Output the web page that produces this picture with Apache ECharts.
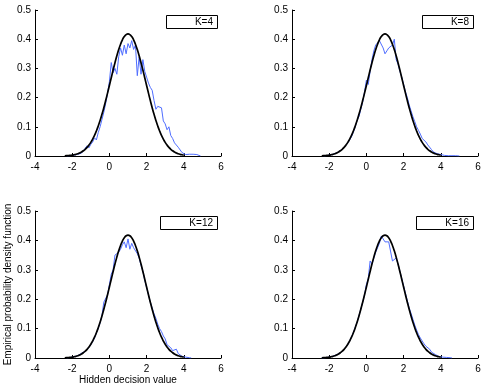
<!DOCTYPE html>
<html>
<head>
<meta charset="utf-8">
<script src="https://cdn.jsdelivr.net/npm/echarts@6/dist/echarts.min.js"></script>
<style>
    html, body { margin: 0; padding: 0; background: #fff; }
    #main { width: 485px; height: 387px; }
</style>
</head>
<body>
<div id="main"></div>
<script>
// panel titles (legend text)
var panelNames = ['K=4', 'K=8', 'K=12', 'K=16'];

var xTicks = [-4, -2, 0, 2, 4, 6];
var yTicks = [0, 0.1, 0.2, 0.3, 0.4, 0.5];

// black reference density, x = -2.4 .. 4.0 step 0.1
var refStart = -2.4;
var refDensity = [
    0.0007, 0.0011, 0.0015, 0.0022, 0.0030, 0.0042, 0.0057, 0.0077, 0.0103, 0.0136,
    0.0178, 0.0230, 0.0294, 0.0373, 0.0466, 0.0578, 0.0707, 0.0857, 0.1027, 0.1217,
    0.1427, 0.1655, 0.1898, 0.2153, 0.2416, 0.2681, 0.2943, 0.3195, 0.3431, 0.3645,
    0.3829, 0.3979, 0.4089, 0.4157, 0.4180, 0.4157, 0.4089, 0.3979, 0.3829, 0.3645,
    0.3431, 0.3195, 0.2943, 0.2681, 0.2416, 0.2153, 0.1898, 0.1655, 0.1427, 0.1217,
    0.1027, 0.0857, 0.0707, 0.0578, 0.0466, 0.0373, 0.0294, 0.0230, 0.0178, 0.0136,
    0.0103, 0.0077, 0.0057, 0.0042, 0.0030
];

// empirical densities (blue), step 0.1
var k4Start = -2.3;
var k4 = [
    0.000, 0.002, 0.001, 0.004, 0.003, 0.008, 0.006, 0.012, 0.010, 0.018,
    0.022, 0.035, 0.028, 0.040, 0.048, 0.062, 0.055, 0.080, 0.100, 0.125,
    0.150, 0.180, 0.215, 0.255, 0.320, 0.285, 0.300, 0.280, 0.340, 0.370,
    0.345, 0.380, 0.350, 0.385, 0.370, 0.395, 0.365, 0.380, 0.275, 0.340,
    0.280, 0.330, 0.290, 0.270, 0.250, 0.235, 0.225, 0.190, 0.160, 0.170,
    0.170, 0.165, 0.120, 0.110, 0.090, 0.100, 0.070, 0.060, 0.045, 0.050,
    0.030, 0.025, 0.012, 0.015, 0.005, 0.000, 0.006, 0.004, 0.006, 0.002,
    0.005, 0.001, 0.000
];

var k8Start = -2.3;
var k8 = [
    0.000, 0.001, 0.002, 0.003, 0.004, 0.006, 0.008, 0.011, 0.014, 0.018,
    0.024, 0.030, 0.036, 0.042, 0.055, 0.066, 0.082, 0.100, 0.122, 0.135,
    0.160, 0.185, 0.220, 0.260, 0.245, 0.290, 0.330, 0.360, 0.380, 0.375,
    0.395, 0.400, 0.370, 0.350, 0.360, 0.370, 0.375, 0.380, 0.400, 0.330,
    0.315, 0.290, 0.270, 0.245, 0.220, 0.200, 0.175, 0.155, 0.135, 0.118,
    0.100, 0.088, 0.075, 0.060, 0.055, 0.048, 0.038, 0.036, 0.022, 0.014,
    0.012, 0.008, 0.006, 0.005, 0.003, 0.002, 0.002, 0.001, 0.001, 0.001,
    0.000, 0.001, 0.000, 0.000
];

var k12Start = -2.3;
var k12 = [
    0.000, 0.001, 0.002, 0.003, 0.004, 0.006, 0.008, 0.012, 0.016, 0.018,
    0.023, 0.028, 0.036, 0.045, 0.056, 0.068, 0.085, 0.100, 0.120, 0.145,
    0.190, 0.190, 0.215, 0.250, 0.285, 0.300, 0.350, 0.350, 0.360, 0.370,
    0.385, 0.395, 0.375, 0.405, 0.370, 0.390, 0.375, 0.370, 0.355, 0.340,
    0.315, 0.295, 0.265, 0.240, 0.215, 0.190, 0.170, 0.150, 0.135, 0.115,
    0.100, 0.090, 0.075, 0.065, 0.045, 0.040, 0.035, 0.025, 0.028, 0.030,
    0.015, 0.010, 0.006, 0.004, 0.003, 0.002, 0.001, 0.000
];

var k16Start = -2.4;
var k16 = [
    0.000, 0.001, 0.001, 0.002, 0.003, 0.004, 0.006, 0.008, 0.011, 0.014,
    0.018, 0.024, 0.029, 0.038, 0.046, 0.058, 0.072, 0.087, 0.105, 0.122,
    0.144, 0.167, 0.190, 0.215, 0.250, 0.270, 0.330, 0.320, 0.340, 0.360,
    0.375, 0.390, 0.415, 0.420, 0.395, 0.400, 0.395, 0.390, 0.330, 0.335,
    0.340, 0.320, 0.295, 0.270, 0.245, 0.220, 0.195, 0.170, 0.152, 0.132,
    0.112, 0.095, 0.080, 0.068, 0.058, 0.048, 0.040, 0.038, 0.030, 0.020,
    0.016, 0.012, 0.008, 0.005, 0.004, 0.003, 0.002, 0.002, 0.001, 0.001,
    0.000
];

var empirical = [
    {start: k4Start, values: k4},
    {start: k8Start, values: k8},
    {start: k12Start, values: k12},
    {start: k16Start, values: k16}
];

function toPairs(start, values) {
    var out = [];
    for (var i = 0; i < values.length; i++) {
        out.push([Math.round((start + i * 0.1) * 10) / 10, values[i]]);
    }
    return out;
}

var font = 'Liberation Sans, Arial, Helvetica, sans-serif';

var grids = [
    {left: 35, top: 10, width: 186, height: 146},
    {left: 292, top: 10, width: 186, height: 146},
    {left: 35, top: 211, width: 186, height: 147},
    {left: 292, top: 211, width: 186, height: 147}
];

// legend boxes (MATLAB style)
var boxes = [
    {x: 166, y: 15, w: 51, h: 13},
    {x: 422, y: 15, w: 51, h: 13},
    {x: 160, y: 216, w: 57, h: 13},
    {x: 416, y: 216, w: 57, h: 13}
];

var xAxes = [], yAxes = [], series = [], graphics = [];

for (var i = 0; i < 4; i++) {
    xAxes.push({
        type: 'value',
        gridIndex: i,
        min: xTicks[0],
        max: xTicks[xTicks.length - 1],
        interval: 2,
        axisLine: {show: true, onZero: false, lineStyle: {color: '#000', width: 1}},
        axisTick: {show: true, inside: true, length: 3, lineStyle: {color: '#000'}},
        axisLabel: {color: '#000', fontSize: 10, fontFamily: font, margin: 6},
        splitLine: {show: false},
        name: i == 2 ? 'Hidden decision value' : '',
        nameLocation: 'middle',
        nameGap: 16,
        nameTextStyle: {color: '#000', fontSize: 10, fontFamily: font}
    });
    yAxes.push({
        type: 'value',
        gridIndex: i,
        min: yTicks[0],
        max: yTicks[yTicks.length - 1],
        interval: 0.1,
        axisLine: {show: true, onZero: false, lineStyle: {color: '#000', width: 1}},
        axisTick: {show: true, inside: true, length: 3, lineStyle: {color: '#000'}},
        axisLabel: {color: '#000', fontSize: 10, fontFamily: font, margin: 4},
        splitLine: {show: false},
        name: i == 2 ? 'Empirical probability density function' : '',
        nameLocation: 'middle',
        nameGap: 22,
        nameTextStyle: {color: '#000', fontSize: 10, fontFamily: font}
    });

    series.push({
        type: 'line',
        xAxisIndex: i,
        yAxisIndex: i,
        showSymbol: false,
        data: toPairs(empirical[i].start, empirical[i].values),
        lineStyle: {color: '#4f6dff', width: 1},
        z: 2
    });
    series.push({
        type: 'line',
        xAxisIndex: i,
        yAxisIndex: i,
        showSymbol: false,
        smooth: true,
        data: toPairs(refStart, refDensity),
        lineStyle: {color: '#000', width: 1.7},
        z: 3
    });

    var b = boxes[i];
    graphics.push({
        type: 'rect',
        shape: {x: b.x + 0.5, y: b.y + 0.5, width: b.w, height: b.h},
        style: {fill: '#fff', stroke: '#000', lineWidth: 1},
        z: 10
    });
    graphics.push({
        type: 'text',
        x: b.x + b.w - 4,
        y: b.y + b.h / 2 + 1,
        style: {
            text: panelNames[i],
            fill: '#000',
            font: '10px ' + font,
            textAlign: 'right',
            textVerticalAlign: 'middle'
        },
        z: 11
    });
}

var option = {
    animation: false,
    backgroundColor: '#fff',
    grid: grids,
    xAxis: xAxes,
    yAxis: yAxes,
    series: series,
    graphic: graphics
};

var myChart = echarts.init(document.getElementById('main'));
myChart.setOption(option);
</script>
</body>
</html>
